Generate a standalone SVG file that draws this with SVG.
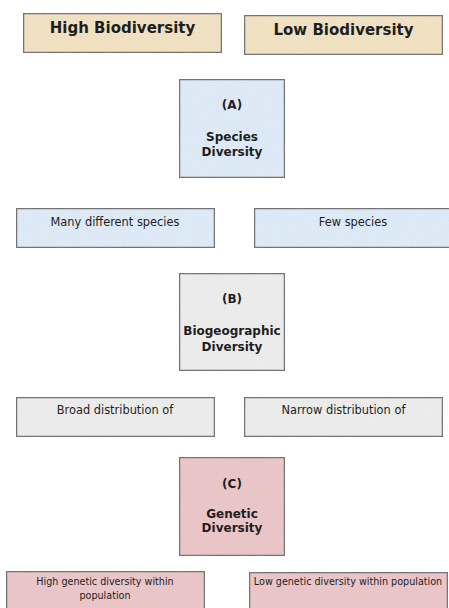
<svg xmlns="http://www.w3.org/2000/svg" width="449" height="608" viewBox="0 0 449 608">
<defs>
<filter id="tex" x="0" y="0" width="100%" height="100%">
<feTurbulence type="fractalNoise" baseFrequency="0.9" numOctaves="2" seed="3" result="n"/>
<feColorMatrix in="n" type="matrix" values="0 0 0 0 0.5  0 0 0 0 0.5  0 0 0 0 0.5  0 0 0 0.25 -0.06" result="g"/>
<feComposite in="g" in2="SourceAlpha" operator="in" result="gm"/>
<feMerge><feMergeNode in="SourceGraphic"/><feMergeNode in="gm"/></feMerge>
</filter>
</defs>
<style>
.box{stroke:#6e6e6e;stroke-width:1.5;filter:url(#tex)}
.tan{fill:#f3e3c3}
.blue{fill:#dfecf9}
.gray{fill:#eeeeee}
.pink{fill:#ecc6c9}
text{font-family:"DejaVu Sans","Liberation Sans",sans-serif;fill:#1e1e1e;text-anchor:middle}
.title{font-size:15px;font-weight:bold}
.head{font-size:12px;font-weight:bold}
.body{font-size:11.4px}
.small{font-size:9.6px}
</style>
<rect width="449" height="608" fill="#ffffff"/>
<g id="high-biodiversity">
<rect class="box tan" x="23.5" y="13.5" width="198" height="39"/>
<text class="title" x="122.5" y="33">High Biodiversity</text>
</g>
<g id="low-biodiversity">
<rect class="box tan" x="244.5" y="15.5" width="198" height="39"/>
<text class="title" x="343.5" y="35">Low Biodiversity</text>
</g>
<g id="species-diversity">
<rect class="box blue" x="179.5" y="79.5" width="105" height="98"/>
<text class="head" x="232" y="109">(A)</text>
<text class="head" x="232" y="141">Species</text>
<text class="head" x="232" y="156">Diversity</text>
</g>
<g id="many-species">
<rect class="box blue" x="16.5" y="208.5" width="198" height="39"/>
<text class="body" x="115" y="226">Many different species</text>
</g>
<g id="few-species">
<rect class="box blue" x="254.5" y="208.5" width="198" height="39"/>
<text class="body" x="353" y="226">Few species</text>
</g>
<g id="biogeographic-diversity">
<rect class="box gray" x="179.5" y="273.5" width="105" height="97"/>
<text class="head" x="232" y="303">(B)</text>
<text class="head" x="232" y="335">Biogeographic</text>
<text class="head" x="232" y="351">Diversity</text>
</g>
<g id="broad-distribution">
<rect class="box gray" x="16.5" y="397.5" width="198" height="39"/>
<text class="body" x="115" y="414">Broad distribution of</text>
</g>
<g id="narrow-distribution">
<rect class="box gray" x="244.5" y="397.5" width="198" height="39"/>
<text class="body" x="343.5" y="414">Narrow distribution of</text>
</g>
<g id="genetic-diversity">
<rect class="box pink" x="179.5" y="457.5" width="105" height="98"/>
<text class="head" x="232" y="488">(C)</text>
<text class="head" x="232" y="518">Genetic</text>
<text class="head" x="232" y="532">Diversity</text>
</g>
<g id="high-genetic">
<rect class="box pink" x="6.5" y="571.5" width="198" height="45"/>
<text class="small" x="105" y="585">High genetic diversity within</text>
<text class="small" x="105" y="599">population</text>
</g>
<g id="low-genetic">
<rect class="box pink" x="249.5" y="572.5" width="198" height="45"/>
<text class="small" x="348" y="585">Low genetic diversity within population</text>
</g>
<g id="connectors"></g>
</svg>
